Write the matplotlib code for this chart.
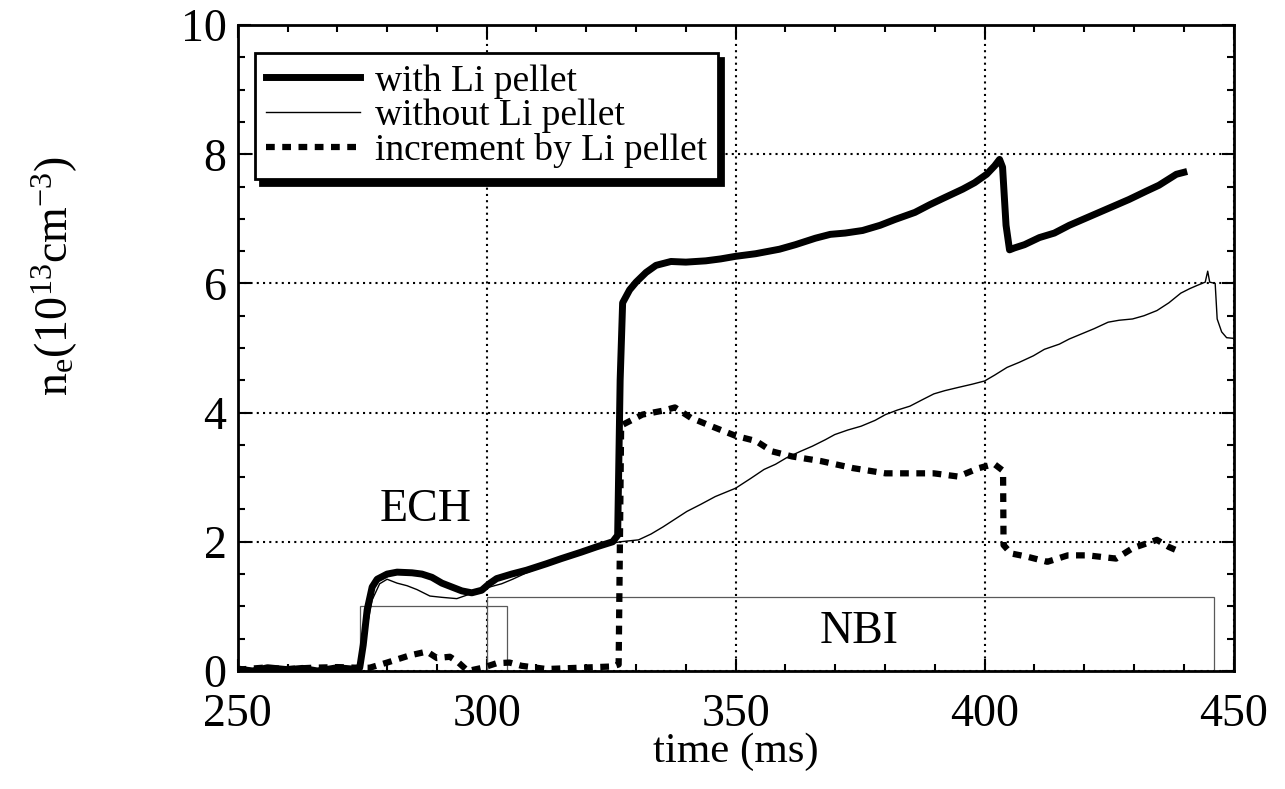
import matplotlib.pyplot as plt
from matplotlib.patches import Rectangle
from matplotlib.ticker import MultipleLocator

plt.rcParams['font.family'] = ['Liberation Serif', 'DejaVu Serif']
plt.rcParams['mathtext.fontset'] = 'custom'
plt.rcParams['mathtext.rm'] = 'Liberation Serif'
plt.rcParams['mathtext.it'] = 'Liberation Serif:italic'

# with Li pellet (thick line)
t_with = [250, 253, 256, 260, 263, 266, 270, 273, 274.5, 275.2, 276, 277, 278, 280,
          282, 285, 287, 289, 291, 293, 295, 297, 299, 300.5, 302, 305, 308, 312,
          315, 319, 322, 325.3, 326.3, 326.8, 327.3, 328.7, 330, 332, 334, 337, 340,
          344, 347, 350, 354, 358.8, 362, 366, 369, 372, 375.5, 379, 382, 386, 389,
          392, 395.6, 398, 400.4, 402, 403, 403.6, 404.3, 405, 406, 408, 411, 414,
          417, 420, 423, 426, 429, 432.5, 435, 438.5, 440]
ne_with = [0.03, 0.0, 0.05, 0.02, 0.04, 0.0, 0.05, 0.03, 0.05, 0.4, 0.95, 1.3, 1.42, 1.5,
           1.53, 1.52, 1.5, 1.45, 1.36, 1.3, 1.24, 1.21, 1.25, 1.35, 1.43, 1.5, 1.56, 1.66,
           1.74, 1.84, 1.92, 2.0, 2.1, 4.5, 5.7, 5.9, 6.02, 6.17, 6.28, 6.34, 6.33,
           6.35, 6.38, 6.42, 6.46, 6.53, 6.6, 6.7, 6.76, 6.78, 6.82, 6.9, 6.99, 7.1, 7.22,
           7.33, 7.46, 7.56, 7.69, 7.82, 7.92, 7.8, 6.9, 6.52, 6.55, 6.6, 6.71, 6.78,
           6.9, 7.0, 7.1, 7.2, 7.3, 7.43, 7.52, 7.69, 7.72]

# without Li pellet (thin line)
t_without = [250, 255, 260, 265, 270, 274.5, 275.5, 277, 278.5, 280, 282, 284, 286,
             288.6, 291, 294, 296.6, 298, 300.6, 303, 305.2, 308, 312, 316, 320, 324,
             326.8, 330.5, 333, 335.4, 338, 340.2, 343, 345.9, 350, 353, 355.7, 358,
             360.2, 363, 365.4, 368, 369.9, 372.5, 375.2, 378, 380.1, 382.5, 385, 387.5,
             389.8, 392, 394.7, 397.5, 400, 402, 404.5, 407, 409.8, 412, 415, 417,
             419.5, 422, 424.8, 427, 429.7, 432, 434.6, 437, 439.4, 441.2, 442.7, 444.3,
             444.8, 445.2, 446.3, 446.7, 447.6, 448.6, 450]
ne_without = [0.02, 0.03, 0.02, 0.03, 0.04, 0.05, 0.5, 1.1, 1.35, 1.42, 1.36, 1.32, 1.26,
              1.16, 1.14, 1.12, 1.19, 1.22, 1.3, 1.35, 1.42, 1.52, 1.64, 1.76, 1.87, 1.96,
              2.0, 2.03, 2.12, 2.23, 2.36, 2.47, 2.58, 2.70, 2.83, 2.98, 3.12, 3.2,
              3.30, 3.4, 3.48, 3.58, 3.66, 3.73, 3.79, 3.88, 3.97, 4.04, 4.10, 4.2,
              4.29, 4.34, 4.39, 4.44, 4.49, 4.58, 4.70, 4.78, 4.88, 4.98, 5.06, 5.14,
              5.22, 5.3, 5.40, 5.43, 5.45, 5.5, 5.58, 5.7, 5.85, 5.92, 5.97, 6.02,
              6.19, 6.02, 6.0, 5.45, 5.25, 5.16, 5.15]

# increment by Li pellet (dashed)
t_inc = [250, 255, 260, 265, 270, 274, 276.5, 280, 284.5, 288, 290, 292.6, 294.2, 296.2,
         299.2, 302, 304.6, 307, 312, 318.7, 325.3, 326.5, 327, 328, 331.3, 335.4, 337.8,
         341, 345.1, 350, 354.1, 357.3, 361.4, 367.1, 373.6, 380.1, 385, 389.8, 394.7,
         398.8, 401.2, 402, 403.7, 403.8, 405.3, 408.5, 412.6, 416.7, 420.7, 426.4,
         429.7, 434.6, 437, 439.4]
ne_inc = [0.02, 0.05, 0.03, 0.05, 0.06, 0.05, 0.05, 0.13, 0.24, 0.3, 0.2, 0.22, 0.14, 0.0,
          0.05, 0.12, 0.13, 0.08, 0.03, 0.05, 0.07, 0.1, 3.8, 3.84, 3.97, 4.03, 4.08,
          3.92, 3.79, 3.64, 3.56, 3.40, 3.32, 3.25, 3.14, 3.06, 3.06, 3.06, 3.01,
          3.14, 3.19, 3.2, 3.1, 1.95, 1.82, 1.77, 1.69, 1.79, 1.79, 1.74,
          1.90, 2.03, 1.92, 1.84]

# heating windows: (start, end, height)
ech_box = (274.5, 304.0, 1.0)
nbi_box = (300.0, 446.0, 1.15)

fig = plt.figure(figsize=(12.85, 7.89), dpi=100)
ax = fig.add_axes([0.185, 0.1496, 0.775, 0.8186])

for (x0, x1, h) in [ech_box, nbi_box]:
    ax.add_patch(Rectangle((x0, 0), x1 - x0, h, fill=False, edgecolor='0.35', lw=0.9, zorder=2))

ax.plot(t_without, ne_without, color='black', lw=1.0, label='without Li pellet', zorder=3)
ax.plot(t_with, ne_with, color='black', lw=5, solid_joinstyle='round', label='with Li pellet', zorder=4)
ax.plot(t_inc, ne_inc, color='black', lw=4.5, linestyle=(0, (1.4, 1.2)), dash_capstyle='butt',
        label='increment by Li pellet', zorder=4)

ax.text(287.8, 2.5, 'ECH', fontsize=33, ha='center', va='center')
ax.text(374.7, 0.6, 'NBI', fontsize=33, ha='center', va='center')

ax.set_xlim(250, 450)
ax.set_ylim(0, 10)
ax.xaxis.set_major_locator(MultipleLocator(50))
ax.xaxis.set_minor_locator(MultipleLocator(10))
ax.yaxis.set_major_locator(MultipleLocator(2))
ax.yaxis.set_minor_locator(MultipleLocator(0.5))
ax.tick_params(which='both', direction='in', top=True, right=True, width=1.5)
ax.tick_params(which='major', length=9, labelsize=33, pad=8)
ax.tick_params(axis='x', which='major', pad=16)
ax.tick_params(which='minor', length=5)
ax.grid(True, which='major', color='black', linestyle=(0, (1, 2)), lw=1.5)
for sp in ax.spines.values():
    sp.set_linewidth(2)

ax.set_xlabel('time (ms)', fontsize=31, labelpad=-2)
fig.text(0.043, 0.65, r'n$_\mathrm{e}$(10$^{13}$cm$^{-3}$)', rotation=90,
         fontsize=33, ha='center', va='center')

h, l = ax.get_legend_handles_labels()
order = [1, 0, 2]
leg = ax.legend([h[i] for i in order], [l[i] for i in order], loc='upper left',
                bbox_to_anchor=(0.017, 0.957), borderaxespad=0, fontsize=27,
                labelspacing=0.0, handlelength=2.5, handletextpad=0.4,
                borderpad=0.3, fancybox=False, framealpha=1,
                shadow={'ox': 4, 'oy': -4, 'color': 'black', 'alpha': 1})
leg.get_frame().set_edgecolor('black')
leg.get_frame().set_linewidth(2)
leg.set_zorder(6)

fig.savefig('out.png', dpi=100)
